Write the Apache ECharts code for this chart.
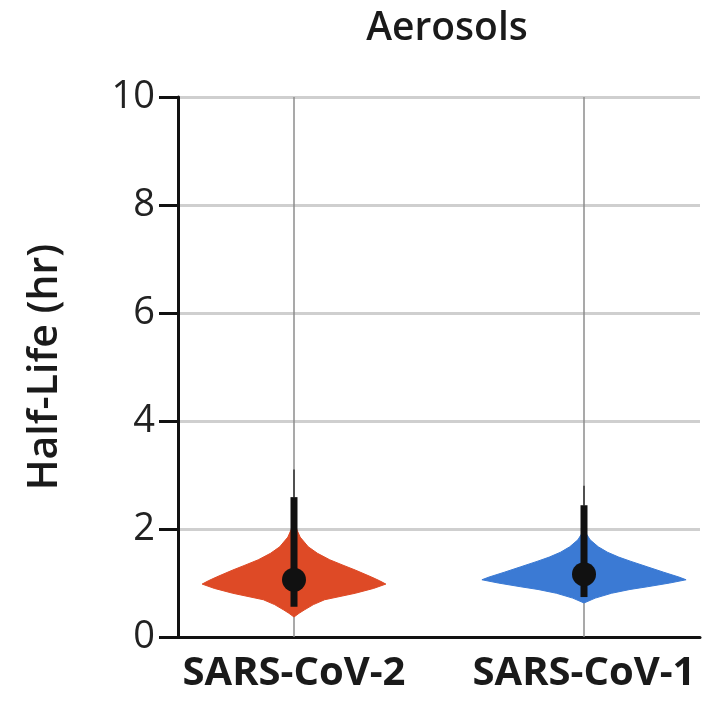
<!DOCTYPE html>
<html>
<head>
<meta charset="utf-8">
<script src="https://cdn.jsdelivr.net/npm/echarts@6/dist/echarts.min.js"></script>
<style>
html,body{margin:0;padding:0;background:#fff;}
#chart{width:713px;height:701px;}
</style>
</head>
<body>
<div id="chart"></div>
<script>
// ---- data ----
const titleText = 'Aerosols';
const yAxisName = 'Half-Life (hr)';
const categories = ['SARS-CoV-2', 'SARS-CoV-1'];
const yTicks = [0, 2, 4, 6, 8, 10];

// violin outlines: half-life values and relative density (1 = widest of both)
const cov2Values  = [0.37, 0.44, 0.50, 0.60, 0.69, 0.81, 0.90, 0.98, 1.04, 1.11, 1.24, 1.33, 1.43, 1.55, 1.67, 1.85, 2.11];
const cov2Density = [0.00, 0.05, 0.10, 0.19, 0.30, 0.60, 0.78, 0.90, 0.84, 0.76, 0.60, 0.48, 0.35, 0.23, 0.14, 0.06, 0.00];
const cov1Values  = [0.63, 0.72, 0.81, 0.88, 0.93, 1.00, 1.06, 1.11, 1.20, 1.30, 1.40, 1.48, 1.57, 1.67, 1.80, 1.98];
const cov1Density = [0.00, 0.11, 0.27, 0.45, 0.62, 0.84, 1.00, 0.93, 0.78, 0.62, 0.46, 0.34, 0.23, 0.14, 0.06, 0.00];

const medians   = [1.06, 1.16];
const ciLow     = [0.56, 0.74];
const ciHigh    = [2.59, 2.44];
const whiskerHi = [3.1, 2.8];

const violinColors = ['#DE4A26', '#3B7AD4'];

// ---- chart ----
const VIOLIN_HALF = 0.352; // x-axis units for density 1
const profiles = [
  {v: cov2Values, d: cov2Density},
  {v: cov1Values, d: cov1Density}
];

function makeRender(ci) {
  return function (params, api) {
    const x = api.value(0);
    const p = profiles[ci];
    const right = [], left = [];
    for (let i = 0; i < p.v.length; i++) {
      right.push(api.coord([x + p.d[i] * VIOLIN_HALF, p.v[i]]));
      left.push(api.coord([x - p.d[i] * VIOLIN_HALF, p.v[i]]));
    }
    const pts = right.concat(left.reverse());
    const c = api.coord([x, medians[ci]]);
    const lo = api.coord([x, ciLow[ci]]);
    const hi = api.coord([x, ciHigh[ci]]);
    const wh = api.coord([x, whiskerHi[ci]]);
    return {
      type: 'group',
      children: [
        {type: 'polygon', shape: {points: pts}, style: {fill: violinColors[ci], stroke: violinColors[ci], lineWidth: 1}},
        {type: 'line', shape: {x1: c[0], y1: hi[1], x2: c[0], y2: wh[1]}, style: {stroke: '#333', lineWidth: 1.5}},
        {type: 'line', shape: {x1: c[0], y1: lo[1], x2: c[0], y2: hi[1]}, style: {stroke: '#111', lineWidth: 7}},
        {type: 'circle', shape: {cx: c[0], cy: c[1], r: 12}, style: {fill: '#111'}}
      ]
    };
  };
}

const chart = echarts.init(document.getElementById('chart'), null, {renderer: 'canvas'});
const FONT = 'Open Sans';
chart.setOption({
  animation: false,
  backgroundColor: '#fff',
  title: {
    text: titleText,
    left: 442,
    textAlign: 'center',
    top: 4,
    textStyle: {fontFamily: FONT, fontSize: 39, fontWeight: 600, color: '#1a1a1a'}
  },
  grid: {left: 178, right: 13, top: 97, bottom: 64, containLabel: false},
  xAxis: {
    type: 'value',
    min: 0.6, max: 2.4, interval: 0.2,
    axisLine: {show: true, onZero: false, lineStyle: {color: '#111', width: 3}},
    axisTick: {show: false},
    splitLine: {show: false},
    axisLabel: {
      margin: 17,
      fontFamily: FONT, fontSize: 40, fontWeight: 'bold', color: '#1a1a1a',
      showMinLabel: true, showMaxLabel: true,
      formatter: function (v) {
        const r = Math.round(v);
        return (Math.abs(v - r) < 1e-6 && r >= 1 && r <= categories.length) ? categories[r - 1] : '';
      }
    }
  },
  yAxis: {
    type: 'value',
    min: yTicks[0], max: yTicks[yTicks.length - 1], interval: 2,
    name: yAxisName,
    nameLocation: 'middle',
    nameGap: 112,
    nameTextStyle: {fontFamily: FONT, fontSize: 41, fontWeight: 600, color: '#1a1a1a'},
    axisLine: {show: true, lineStyle: {color: '#111', width: 3}},
    axisTick: {show: true, length: 19, lineStyle: {color: '#111', width: 3}},
    axisLabel: {margin: 23, fontFamily: FONT, fontSize: 38, color: '#222'},
    splitLine: {show: true, lineStyle: {color: '#cfcfcf', width: 3}}
  },
  series: [
    {
      type: 'custom', name: categories[0],
      renderItem: makeRender(0),
      data: [[1]],
      z: 3,
      markLine: {
        silent: true, symbol: 'none', label: {show: false},
        lineStyle: {color: '#8c8c8c', width: 1.5, type: 'solid'},
        data: [{xAxis: 1}, {xAxis: 2}],
        z: 2
      }
    },
    {
      type: 'custom', name: categories[1],
      renderItem: makeRender(1),
      data: [[2]],
      z: 3
    }
  ]
});
</script>
</body>
</html>
